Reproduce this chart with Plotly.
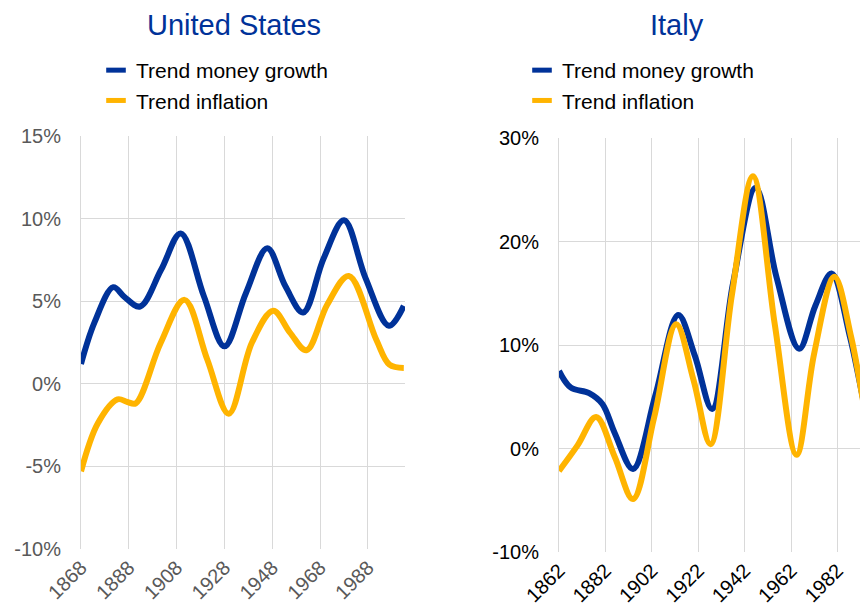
import plotly.graph_objects as go

# ---- data (turning points and mid-slope points) ----
us_years_money = [1868, 1873.6, 1881.5, 1886, 1892.7, 1901.5, 1909.7, 1919.4, 1928, 1937, 1945.9,
                  1953.5, 1960.9, 1969.5, 1978, 1987, 1996.8, 2003]
us_money = [1.2, 3.7, 5.85, 5.28, 4.68, 6.9, 9.1, 5.3, 2.27, 5.5, 8.2,
            5.9, 4.32, 7.6, 9.9, 6.4, 3.51, 4.72]
us_years_infl = [1868, 1875, 1883.3, 1887.4, 1890.9, 1901.3, 1911.3, 1920.8, 1929.8, 1939.5, 1948.4,
                 1955.4, 1962.3, 1971, 1980, 1991.5, 1997, 2003]
us_infl = [-5.3, -2.4, -0.94, -1.1, -1.18, 2.47, 5.08, 1.47, -1.81, 2.5, 4.42,
           3.1, 2.03, 4.8, 6.53, 2.67, 1.16, 0.96]

it_years_money = [1862, 1867, 1875, 1880.7, 1886, 1893.9, 1903.5, 1913.4, 1920.5, 1928, 1937, 1946.8,
                  1955.7, 1965.5, 1972.5, 1979.5, 1987.4, 1995.2, 1997]
it_money = [7.5, 5.9, 5.35, 4.3, 1.5, -1.98, 5.1, 12.9, 9.0, 3.82, 15.95, 25.2,
            16.6, 9.64, 13.8, 16.9, 10.8, 2.7, 1.6]
it_years_infl = [1862, 1870, 1878, 1886, 1893.9, 1903, 1912.5, 1920, 1927.3, 1936.5, 1945.6,
                 1955, 1964.4, 1972, 1980.7, 1988, 1995.3, 1997]
it_infl = [-2.17, 0.3, 3.04, -0.8, -4.89, 3.0, 12.0, 6.6, 0.42, 14.8, 26.3,
           12.0, -0.61, 9.2, 16.6, 10.7, 2.04, 0.9]

us_yticks = [-10, -5, 0, 5, 10, 15]
it_yticks = [-10, 0, 10, 20, 30]
series_names = ["Trend money growth", "Trend inflation"]

BLUE = "#003299"
YELLOW = "#FFB400"
FONT = "Arial, Liberation Sans, sans-serif"
W, H = 868, 607
OFF = 8  # page body margin

def px_x(p):
    return (p - OFF) / W

def px_y(p):
    return 1 - (p - OFF) / H

fig = go.Figure()
for xs, ys, col, xa, ya in [
    (us_years_money, us_money, BLUE, "x", "y"),
    (us_years_infl, us_infl, YELLOW, "x", "y"),
    (it_years_money, it_money, BLUE, "x2", "y2"),
    (it_years_infl, it_infl, YELLOW, "x2", "y2"),
]:
    fig.add_trace(go.Scatter(x=xs, y=ys, mode="lines", showlegend=False,
                             line=dict(color=col, width=6, shape="spline", smoothing=1.0),
                             xaxis=xa, yaxis=ya))

# legend entries (short thick dash keys)
for lg, xa, ya in [("legend", "x", "y"), ("legend2", "x2", "y2")]:
    for name, col in zip(series_names, [BLUE, YELLOW]):
        fig.add_trace(go.Scatter(x=[None], y=[None], mode="markers", name=name,
                                 marker=dict(symbol="line-ew", size=14, color=col,
                                             line=dict(color=col, width=6)),
                                 xaxis=xa, yaxis=ya, legend=lg))

grid = "#D9D9D9"
it_left = 559
fig.update_layout(
    width=W, height=H,
    margin=dict(l=0, r=0, t=0, b=0, autoexpand=False),
    paper_bgcolor="white", plot_bgcolor="white",
    font=dict(family=FONT, size=20, color="#000000"),
    xaxis=dict(domain=[px_x(81), px_x(405)], range=[1868, 2003.5], tick0=1868, dtick=20,
               tickangle=-45, showgrid=True, gridcolor=grid, gridwidth=1, zeroline=False,
               showline=False, ticks="", tickfont=dict(size=20, color="#595959"), anchor="y",
               automargin=False, ticklabelstandoff=2),
    yaxis=dict(domain=[px_y(549), px_y(136)], range=[-10, 15], tickvals=us_yticks,
               ticktext=[f"{v}%" for v in us_yticks], showgrid=True, gridcolor=grid,
               zeroline=False, showline=True, linecolor=grid, ticks="",
               tickfont=dict(size=20, color="#595959"), anchor="x", automargin=False,
               ticklabelstandoff=15),
    xaxis2=dict(domain=[px_x(it_left), 1.0], range=[1862, 1862 + (W + OFF - it_left) / 2.32],
                tick0=1862, dtick=20,
                tickangle=-45, showgrid=True, gridcolor=grid, gridwidth=1, zeroline=False,
                showline=False, ticks="", tickfont=dict(size=20, color="#000000"), anchor="y2",
                automargin=False, ticklabelstandoff=2),
    yaxis2=dict(domain=[px_y(552), px_y(138)], range=[-10, 30], tickvals=it_yticks,
                ticktext=[f"{v}%" for v in it_yticks], showgrid=True, gridcolor=grid,
                zeroline=False, showline=True, linecolor=grid, ticks="",
                tickfont=dict(size=20, color="#000000"), anchor="x2", automargin=False,
                ticklabelstandoff=15),
    legend=dict(x=px_x(96), y=px_y(50), xanchor="left", yanchor="top", bgcolor="rgba(0,0,0,0)",
                font=dict(size=21, color="#000000"), itemwidth=30, tracegroupgap=0),
    legend2=dict(x=px_x(522), y=px_y(50), xanchor="left", yanchor="top", bgcolor="rgba(0,0,0,0)",
                 font=dict(size=21, color="#000000"), itemwidth=30, tracegroupgap=0),
    annotations=[
        dict(text="United States", x=px_x(234), y=px_y(25), xref="paper", yref="paper",
             showarrow=False, xanchor="center", yanchor="middle", borderpad=0,
             font=dict(size=29, color=BLUE, family=FONT)),
        dict(text="Italy", x=px_x(677), y=px_y(25), xref="paper", yref="paper",
             showarrow=False, xanchor="center", yanchor="middle", borderpad=0,
             font=dict(size=29, color=BLUE, family=FONT)),
    ],
)

fig.write_html("out.html")
